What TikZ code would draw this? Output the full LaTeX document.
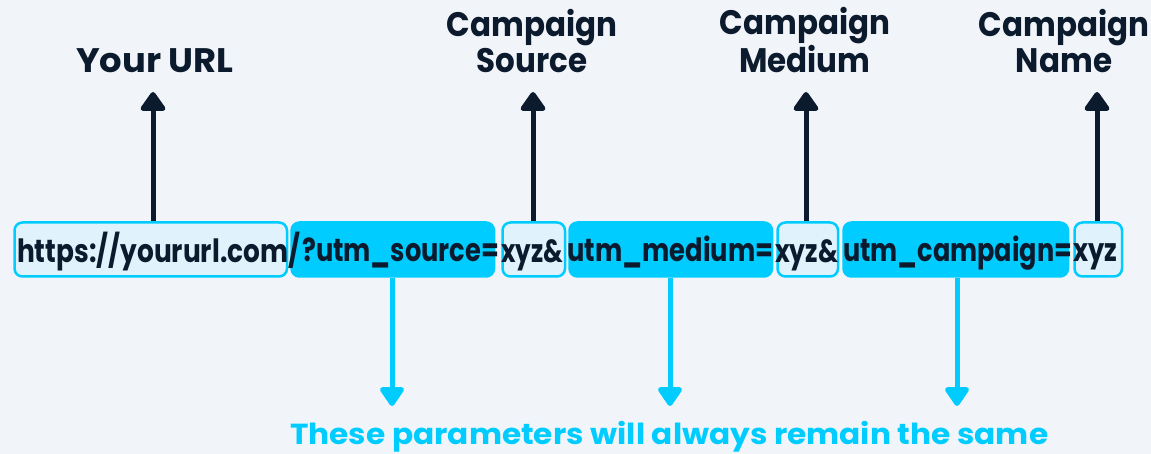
\documentclass[tikz,border=0pt]{standalone}
\usepackage{fontspec}
\usepackage{graphicx}
\setmainfont{Poppins}
\usetikzlibrary{arrows.meta}
\definecolor{pagebg}{HTML}{F1F5F9}
\definecolor{ink}{HTML}{0C1A2E}
\definecolor{utmcyan}{HTML}{00CCFF}
\definecolor{paleblue}{HTML}{E0F2FC}
% set a run of text to a given width, keeping its height
\newcommand\fitwidth[2]{\resizebox{#1}{\height}{#2}}
% a centred label of one or more lines, scaled across by #1
\newcommand\labeltext[2]{\scalebox{#1}[1]{\begin{tabular}[b]{@{}c@{}}#2\end{tabular}}}
\begin{document}
\begin{tikzpicture}[x=1pt, y={(0pt,-1pt)},
  seg/.style={draw=utmcyan, line width=2.5pt, rounded corners=8pt,
    minimum height=54pt, inner sep=0pt, anchor=west},
  lightseg/.style={seg, fill=paleblue},
  fullseg/.style={seg, fill=utmcyan},
  urltext/.style={font=\fontsize{32}{32}\selectfont\bfseries, text=ink,
    inner sep=0pt, anchor=base west},
  toplabel/.style={font=\fontsize{34}{36}\selectfont\bfseries, text=ink,
    inner sep=0pt, anchor=base},
  uparrow/.style={draw=ink, line width=5pt,
    -{Triangle[width=28pt, length=21pt, round]}},
  downarrow/.style={draw=utmcyan, line width=5pt,
    -{Triangle[width=27pt, length=21pt, round]}},
  note/.style={font=\fontsize{29}{29}\selectfont\bfseries, text=utmcyan,
    inner sep=0pt, anchor=base west}
]
% page
\fill[pagebg] (0,0) rectangle (1151,454);
\useasboundingbox (0,0) rectangle (1151,454);

% arrow tips
\coordinate (t1) at (153,92);
\coordinate (t2) at (533,92);
\coordinate (t3) at (806,92);
\coordinate (t4) at (1097,92);
\coordinate (d1) at (392,406);
\coordinate (d2) at (670,406);
\coordinate (d3) at (957,406);

% arrows up to the labels (drawn first so the boxes cover their feet)
\draw[uparrow] (t1 |- 240,249.5) -- (t1);
\draw[uparrow] (t2 |- 240,249.5) -- (t2);
\draw[uparrow] (t3 |- 240,249.5) -- (t3);
\draw[uparrow] (t4 |- 240,249.5) -- (t4);

% URL segments
\node[lightseg, minimum width=272.5pt] (b1) at (13.25,249.5) {};
\node[fullseg,  minimum width=202.5pt] (b2) at (290.25,249.5) {};
\node[lightseg, minimum width=62.5pt]  (b3) at (501.25,249.5) {};
\node[fullseg,  minimum width=202.5pt] (b4) at (568.25,249.5) {};
\node[lightseg, minimum width=60.5pt]  (b5) at (776.25,249.5) {};
\node[fullseg,  minimum width=224.5pt] (b6) at (842.25,249.5) {};
\node[lightseg, minimum width=47.5pt]  (b7) at (1073.25,249.5) {};

% URL text
\node[urltext] (u1) at (17,262)   {\fitwidth{283pt}{https://yoururl.com/}};
\node[urltext] (u2) at (302,262)  {\fitwidth{197pt}{?utm\_source=}};
\node[urltext] (u3) at (501,262)  {\fitwidth{62pt}{xyz\&}};
\node[urltext] (u4) at (567,262)  {\fitwidth{206pt}{utm\_medium=}};
\node[urltext] (u5) at (775,262)  {\fitwidth{63pt}{xyz\&}};
\node[urltext] (u6) at (843,262)  {\fitwidth{229pt}{utm\_campaign=}};
\node[urltext] (u7) at (1073,262) {\fitwidth{44pt}{xyz}};

% labels above
\node[toplabel] (l1) at (155,73) {\labeltext{1.04}{Your URL}};
\node[toplabel] (l2) at (532,73) {\labeltext{0.91}{Campaign\\Source}};
\node[toplabel] (l3) at (805,73) {\labeltext{0.91}{Campaign\\Medium}};
\node[toplabel] (l4) at (1064,73) {\labeltext{0.91}{Campaign\\Name}};

% arrows down to the note
\draw[downarrow] (b2.south -| d1) -- (d1);
\draw[downarrow] (b4.south -| d2) -- (d2);
\draw[downarrow] (b6.south -| d3) -- (d3);

\node[note] (n1) at (290,444)
  {\fitwidth{758pt}{These parameters will always remain the same}};
\end{tikzpicture}
\end{document}
